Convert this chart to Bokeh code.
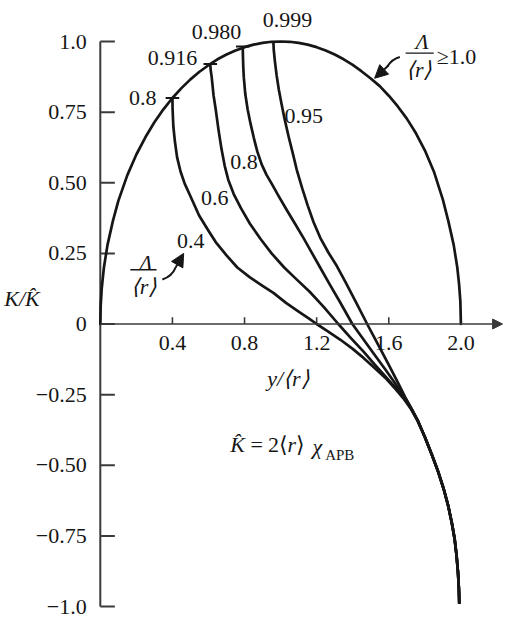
from bokeh.plotting import figure
from bokeh.models import Range1d, Arrow, NormalHead
from bokeh.core.properties import value
from bokeh.embed import file_html
from bokeh.resources import INLINE

# ---------------- data ----------------
y_ticks = [1.0, 0.75, 0.50, 0.25, 0.0, -0.25, -0.50, -0.75, -1.0]
y_tick_labels = ["1.0", "0.75", "0.50", "0.25", "0", "\u22120.25", "\u22120.50", "\u22120.75", "\u22121.0"]
x_ticks = [0.4, 0.8, 1.2, 1.6, 2.0]
x_tick_labels = ["0.4", "0.8", "1.2", "1.6", "2.0"]

# envelope  Lambda/<r> >= 1.0
outer_x = [0.0, 0.002, 0.008, 0.02, 0.04, 0.07, 0.10, 0.15, 0.20, 0.25, 0.30, 0.35, 0.40, 0.45, 0.50,
           0.55, 0.60, 0.65, 0.70, 0.75, 0.80, 0.85, 0.90, 0.95, 1.00, 1.05, 1.10, 1.15, 1.20, 1.25,
           1.30, 1.35, 1.40, 1.45, 1.50, 1.55, 1.60, 1.65, 1.70, 1.75, 1.80, 1.85, 1.90, 1.93, 1.96,
           1.98, 1.99, 1.997, 2.0]
outer_k = [0.0, 0.063, 0.126, 0.20, 0.28, 0.365, 0.436, 0.527, 0.60, 0.661, 0.714, 0.760, 0.80, 0.835, 0.866,
           0.893, 0.916, 0.937, 0.954, 0.968, 0.980, 0.989, 0.995, 0.999, 1.0, 0.999, 0.995, 0.989, 0.980, 0.968,
           0.954, 0.937, 0.917, 0.894, 0.869, 0.842, 0.808, 0.770, 0.727, 0.676, 0.615, 0.540, 0.44, 0.365, 0.28,
           0.20, 0.14, 0.08, 0.0]

# Lambda/<r> = 0.4
c04_x = [0.400, 0.401, 0.405, 0.414, 0.426, 0.445, 0.468, 0.50, 0.548, 0.60, 0.64, 0.70, 0.76, 0.83, 0.90,
         0.96, 1.03, 1.10, 1.16, 1.20, 1.26, 1.33, 1.40, 1.46, 1.52, 1.58, 1.64, 1.68, 1.72, 1.76]
c04_k = [0.800, 0.760, 0.700, 0.645, 0.590, 0.540, 0.497, 0.452, 0.384, 0.330, 0.290, 0.243, 0.200, 0.165, 0.135,
         0.110, 0.075, 0.044, 0.018, 0.0, -0.025, -0.055, -0.088, -0.12, -0.155, -0.19, -0.232, -0.262, -0.298, -0.343]
# Lambda/<r> = 0.6
c06_x = [0.610, 0.612, 0.618, 0.628, 0.640, 0.655, 0.672, 0.69, 0.71, 0.74, 0.78, 0.83, 0.89, 0.95, 1.02,
         1.09, 1.16, 1.24, 1.32, 1.39, 1.46, 1.52, 1.58, 1.64, 1.68, 1.72, 1.76]
c06_k = [0.920, 0.90, 0.873, 0.81, 0.76, 0.69, 0.62, 0.56, 0.51, 0.46, 0.41, 0.355, 0.30, 0.25, 0.20,
         0.157, 0.115, 0.06, 0.0, -0.05, -0.098, -0.142, -0.185, -0.228, -0.259, -0.295, -0.342]
# Lambda/<r> = 0.8
c08_x = [0.790, 0.791, 0.793, 0.796, 0.804, 0.817, 0.833, 0.851, 0.871, 0.895, 0.922, 0.952, 0.99, 1.03,
         1.08, 1.129, 1.175, 1.22, 1.27, 1.33, 1.398, 1.46, 1.52, 1.58, 1.63, 1.67, 1.70, 1.73, 1.76]
c08_k = [0.982, 0.95, 0.91, 0.873, 0.815, 0.76, 0.71, 0.66, 0.61, 0.565, 0.528, 0.495, 0.452, 0.408,
         0.355, 0.302, 0.25, 0.199, 0.143, 0.077, 0.0, -0.055, -0.108, -0.16, -0.205, -0.243, -0.272, -0.305, -0.341]
# Lambda/<r> = 0.95
c095_x = [0.960, 0.962, 0.968, 0.978, 0.99, 1.005, 1.022, 1.045, 1.068, 1.09, 1.12, 1.15, 1.183, 1.22,
          1.265, 1.312, 1.36, 1.42, 1.48, 1.54, 1.60, 1.65, 1.69, 1.72, 1.76]
c095_k = [0.999, 0.97, 0.932, 0.88, 0.83, 0.78, 0.726, 0.662, 0.603, 0.545, 0.48, 0.42, 0.36, 0.305,
          0.253, 0.205, 0.148, 0.075, 0.0, -0.072, -0.145, -0.207, -0.258, -0.293, -0.340]
# common lower branch
tail_x = [1.80, 1.84, 1.875, 1.905, 1.93, 1.95, 1.965, 1.976, 1.984, 1.989, 1.991]
tail_k = [-0.40, -0.465, -0.525, -0.585, -0.645, -0.705, -0.76, -0.82, -0.88, -0.94, -0.99]

lambda_labels = ["0.4", "0.6", "0.8", "0.95"]
start_k_labels = ["0.8", "0.916", "0.980", "0.999"]

# ---------------- layout ----------------
W, H = 506, 620
X0, Y0, SX, SY = 103.0, 335.0, 186.0, 292.0   # reference pixel frame (for annotation placement)
def ax(px):
    return (px - X0) / SX
def ay(py):
    return (Y0 - py) / SY

# figure pixel frame: x=0 at 99.8 px, 180.3 px/unit ; y=0 at 323.5 px, 282.5 px/unit
FX0, FSX, FY0, FSY = 99.8, 180.3, 323.5, 282.5

FONT = value("Liberation Serif")
INK = "#161616"
AXC = "#3a3a3a"
FS = "22px"

p = figure(width=W, height=H, output_backend="svg", toolbar_location=None,
           x_range=Range1d(-FX0 / FSX, (W - FX0) / FSX),
           y_range=Range1d(-(H - FY0) / FSY, FY0 / FSY),
           x_axis_type=None, y_axis_type=None, min_border=0)
p.outline_line_color = None
p.background_fill_color = "white"
p.border_fill_color = "white"

# ---------------- axes ----------------
p.segment(x0=[0], y0=[min(y_ticks)], x1=[0], y1=[max(y_ticks)], line_color=AXC, line_width=2)
tlen = 15 / SX
p.segment(x0=[0] * len(y_ticks), y0=y_ticks, x1=[tlen] * len(y_ticks), y1=y_ticks,
          line_color=AXC, line_width=2)
p.text(x=[ax(89)] * len(y_ticks), y=y_ticks, text=y_tick_labels, text_font=FONT, text_font_size=FS,
       text_align="right", text_baseline="middle", text_color=INK)

p.add_layout(Arrow(end=NormalHead(size=10, fill_color=AXC, line_color=AXC),
                   x_start=0, y_start=0, x_end=ax(518), y_end=0, line_color=AXC, line_width=1.6))
xt = 7 / SY
p.segment(x0=x_ticks, y0=[0] * len(x_ticks), x1=x_ticks, y1=[xt] * len(x_ticks),
          line_color=AXC, line_width=1.6)
p.text(x=x_ticks, y=[ay(355)] * len(x_ticks), text=x_tick_labels, text_font=FONT, text_font_size=FS,
       text_align="center", text_baseline="middle", text_color=INK)

# ---------------- curves ----------------
LW = 2.7
p.line(outer_x, outer_k, line_color=INK, line_width=LW, line_join="round", line_cap="round")
curves = [(c04_x, c04_k), (c06_x, c06_k), (c08_x, c08_k), (c095_x, c095_k)]
for cx, ck in curves:
    p.line(cx + tail_x, ck + tail_k, line_color=INK, line_width=LW, line_join="round")

half = 7 / SX
sx = [c[0][0] for c in curves[:3]]
sk = [c[1][0] for c in curves[:3]]
p.segment(x0=[v - half for v in sx], y0=sk, x1=[v + half for v in sx], y1=sk,
          line_color=INK, line_width=2)

# ---------------- annotations ----------------
def txt(px, py, s, align="left", style="normal", size=FS):
    p.text(x=[ax(px)], y=[ay(py)], text=[s], text_font=FONT, text_font_size=size,
           text_align=align, text_baseline="middle", text_color=INK, text_font_style=style)

txt(161, 101, start_k_labels[0], "right")
txt(203, 60, start_k_labels[1], "right")
txt(223, 33, start_k_labels[2], "center")
txt(296, 21, start_k_labels[3], "center")

txt(182, 249, lambda_labels[0])
txt(207, 205, lambda_labels[1])
txt(237, 168, lambda_labels[2])
txt(293, 120, lambda_labels[3])

# fraction Lambda/<r> >= 1.0 (upper right)
txt(435, 43, "\u039b", "center", "italic")
p.segment(x0=[ax(418)], y0=[ay(55)], x1=[ax(447)], y1=[ay(55)], line_color=INK, line_width=1.4)
txt(432, 72, "\u27e8r\u27e9", "center", "italic")
txt(450, 58, "\u22651.0")
p.quadratic(x0=[ax(412)], y0=[ay(59)], x1=[ax(399)], y1=[ay(69)], cx=[ax(404)], cy=[ay(61)],
            line_color=INK, line_width=2)
p.add_layout(Arrow(end=NormalHead(size=13, fill_color=INK, line_color=INK),
                   x_start=ax(400), y_start=ay(68), x_end=ax(386), y_end=ay(81),
                   line_color=INK, line_width=2))

# fraction Lambda/<r> (lower left)
txt(150, 271, "\u039b", "center", "italic")
p.segment(x0=[ax(134)], y0=[ay(279)], x1=[ax(161)], y1=[ay(279)], line_color=INK, line_width=1.4)
txt(148, 296, "\u27e8r\u27e9", "center", "italic")
p.quadratic(x0=[ax(167)], y0=[ay(289)], x1=[ax(181)], y1=[ay(276)], cx=[ax(177)], cy=[ay(286)],
            line_color=INK, line_width=2)
p.add_layout(Arrow(end=NormalHead(size=13, fill_color=INK, line_color=INK),
                   x_start=ax(181), y_start=ay(276), x_end=ax(189), y_end=ay(262),
                   line_color=INK, line_width=2))

# axis titles
txt(4, 309, "K/K\u0302", "left", "italic")
txt(297, 391, "y/\u27e8r\u27e9", "center", "italic")

# formula  K^ = 2<r> chi_APB
txt(237, 460, "K\u0302", "left", "italic")
txt(258, 460, "=")
txt(276, 460, "2\u27e8")
txt(296, 460, "r", "left", "italic")
txt(305, 460, "\u27e9")
txt(322, 462, "\u03c7", "left", "italic")
txt(335, 470, "APB", "left", "normal", "15px")

open("out.html", "w").write(file_html(p, INLINE))
